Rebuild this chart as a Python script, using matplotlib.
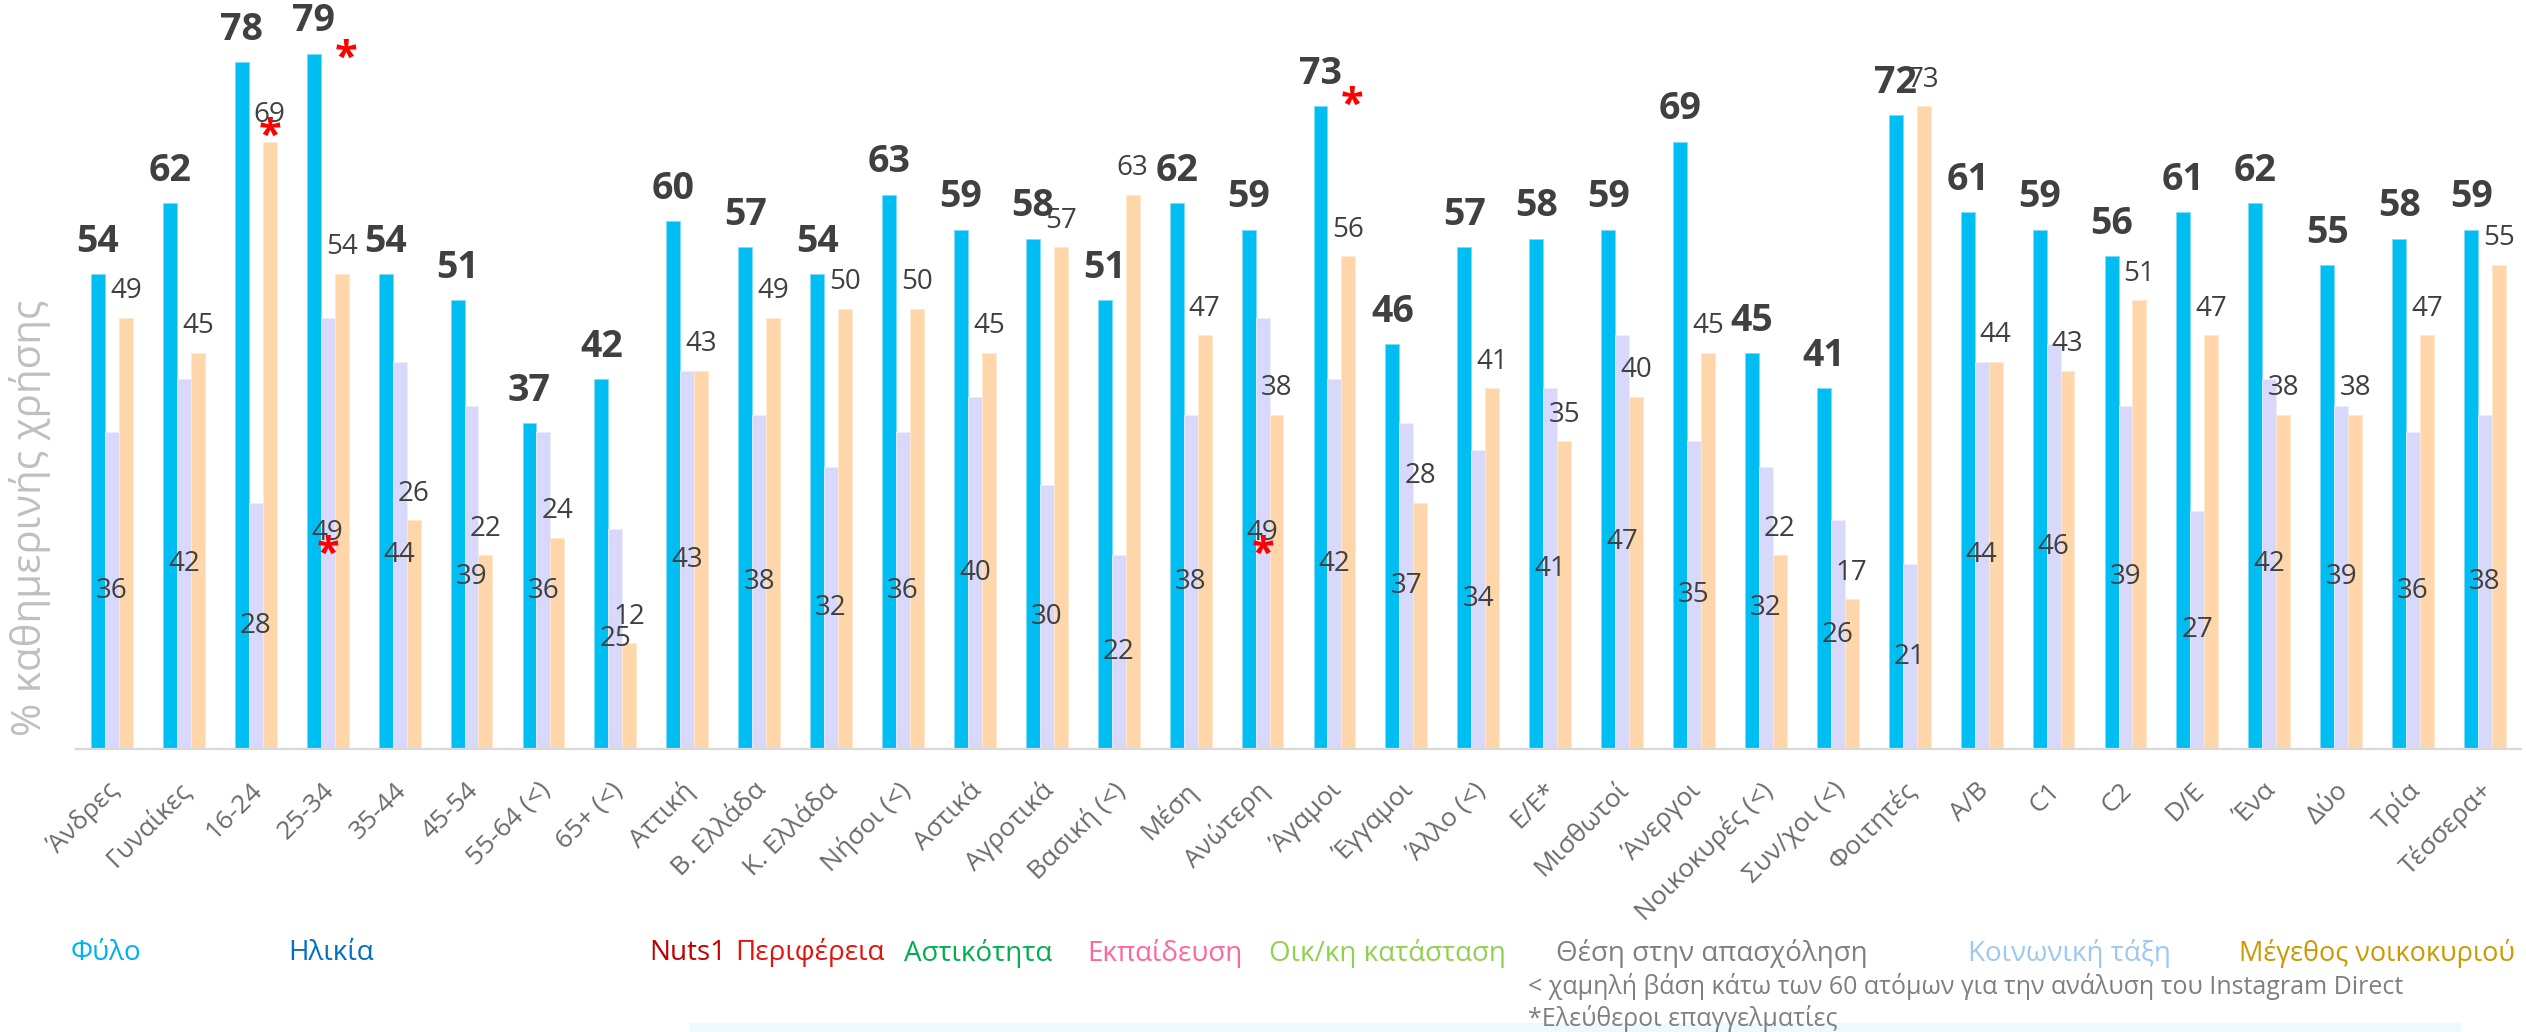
import matplotlib
matplotlib.use("Agg")
import matplotlib.pyplot as plt
import matplotlib.transforms as mtransforms
from matplotlib.patches import Rectangle

plt.rcParams['font.family'] = ['Open Sans', 'DejaVu Sans']

# ---- data -------------------------------------------------------------
categories = ["Άνδρες", "Γυναίκες", "16-24", "25-34", "35-44", "45-54",
              "55-64 (<)", "65+ (<)", "Αττική", "Β. Ελλάδα", "Κ. Ελλάδα",
              "Νήσοι (<)", "Αστικά", "Αγροτικά", "Βασική (<)", "Μέση",
              "Ανώτερη", "Άγαμοι", "Έγγαμοι", "Άλλο (<)", "Ε/Ε*", "Μισθωτοί",
              "Άνεργοι", "Νοικοκυρές (<)", "Συν/χοι (<)", "Φοιτητές", "A/B",
              "C1", "C2", "D/E", "Ένα", "Δύο", "Τρία", "Τέσσερα+"]

series_main = [54, 62, 78, 79, 54, 51, 37, 42, 60, 57, 54, 63, 59, 58, 51, 62,
               59, 73, 46, 57, 58, 59, 69, 45, 41, 72, 61, 59, 56, 61, 62, 55,
               58, 59]
series_lav = [36, 42, 28, 49, 44, 39, 36, 25, 43, 38, 32, 36, 40, 30, 22, 38,
              49, 42, 37, 34, 41, 47, 35, 32, 26, 21, 44, 46, 39, 27, 42, 39,
              36, 38]
series_orange = [49, 45, 69, 54, 26, 22, 24, 12, 43, 49, 50, 50, 45, 57, 63,
                 47, 38, 56, 28, 41, 35, 40, 45, 22, 17, 73, 44, 43, 51, 47,
                 38, 38, 47, 55]

# significance markers: category indices per series
star_main = [3, 17]
star_lav = [3, 16]
star_orange = [2]

group_labels = ["Φύλο", "Ηλικία", "Nuts1", "Περιφέρεια", "Αστικότητα",
                "Εκπαίδευση", "Οικ/κη κατάσταση", "Θέση στην απασχόληση",
                "Κοινωνική τάξη", "Μέγεθος νοικοκυριού"]
notes = ["< χαμηλή βάση κάτω των 60 ατόμων για την ανάλυση του Instagram Direct",
         "*Ελεύθεροι επαγγελματίες"]
y_title = "% καθημερινής χρήσης"

# ---- style ------------------------------------------------------------
C_MAIN = "#00BEF2"
C_LAV = "#D8D8FA"
C_ORANGE = "#FFD6AA"
C_TEXT = "#404040"
group_colors = ["#00B0F0", "#0070C0", "#C00000", "#E3120B", "#00B050",
                "#FF6699", "#92D050", "#7F7F7F", "#9DC8F0", "#CC9900"]
group_x = [71, 288, 649, None, 904, 1087, 1269, 1556, 1968, 2239]

W, H = 2526, 1032
fig = plt.figure(figsize=(W / 100, H / 100), dpi=100)
ax = fig.add_axes([76 / W, 1 - 749 / H, (2521 - 76) / W, 749 / H])

n = len(categories)
xs = list(range(n))
bw = 0.194

ax.bar([x - bw for x in xs], series_main, width=bw, color=C_MAIN,
       edgecolor="#7FDBF8", linewidth=0.6)
ax.bar(xs, series_lav, width=bw, color=C_LAV, edgecolor="#EDEDFD",
       linewidth=0.6)
ax.bar([x + bw for x in xs], series_orange, width=bw, color=C_ORANGE,
       edgecolor="#FFE8D0", linewidth=0.6)

ax.set_xlim(-0.5, n - 0.5)
ax.set_ylim(0, 85.1)
for s in ("top", "right", "left"):
    ax.spines[s].set_visible(False)
ax.spines["bottom"].set_color("#D9D9D9")
ax.spines["bottom"].set_linewidth(1.6)
ax.set_yticks([])
ax.set_xticks(xs)
ax.set_xticklabels(categories, rotation=45, ha="right", va="center",
                   rotation_mode="anchor", fontsize=19, color="#6B6B6B")
ax.tick_params(axis="x", length=0, pad=27)
shift = mtransforms.ScaledTranslation(3 / 100, 0, fig.dpi_scale_trans)
for lbl in ax.get_xticklabels():
    lbl.set_transform(lbl.get_transform() + shift)

# value labels
for x, v in zip(xs, series_main):
    ax.annotate(str(v), (x - bw, v), xytext=(0, 16), textcoords="offset points",
                ha="center", va="baseline", fontsize=27, fontweight="bold",
                color=C_TEXT)
for x, v in zip(xs, series_orange):
    ax.annotate(str(v), (x + bw, v), xytext=(0, 14), textcoords="offset points",
                ha="center", va="baseline", fontsize=20, color=C_TEXT)
for x, v in zip(xs, series_lav):
    ax.annotate(str(v), (x, v / 2), ha="center", va="center", fontsize=20,
                color=C_TEXT)

# red significance asterisks
star_kw = dict(textcoords="offset points", ha="center", va="center",
               fontsize=30, fontweight="bold", color="#FF0000")
main_offsets = {3: (23, -4), 17: (23, 0)}
for i in star_main:
    ax.annotate("*", (i - bw, series_main[i]), xytext=main_offsets[i],
                **star_kw)
for i in star_lav:
    ax.annotate("*", (i, series_lav[i] / 2), xytext=(0, -16), **star_kw)
for i in star_orange:
    ax.annotate("*", (i + bw, series_orange[i]), xytext=(0, 3), **star_kw)

# y axis title
fig.text(30 / W, 1 - 518 / H, y_title, rotation=90, ha="center", va="center",
         fontsize=29, color="#BFBFBF")

# grouping legend row
row_y = 1 - 953 / H
prev = None
for lab, col, gx in zip(group_labels, group_colors, group_x):
    if gx is None:
        prev = ax.annotate(lab, xy=(1, 0), xycoords=prev, xytext=(7, 0),
                           textcoords="offset points", ha="left", va="bottom",
                           fontsize=20, color=col, annotation_clip=False)
    else:
        prev = fig.text(gx / W, row_y, lab, ha="left", va="center",
                        fontsize=19.5 if gx > 2200 else 20, color=col)

fig.text(1528 / W, 1 - 987 / H, notes[0], ha="left", va="center", fontsize=18,
         color="#7F7F7F")
fig.text(1528 / W, 1 - 1018 / H, notes[1], ha="left", va="center",
         fontsize=18, color="#7F7F7F")

# faint band along the bottom edge
fig.patches.append(Rectangle((690 / W, 0), (2460 - 690) / W, 9 / H,
                             transform=fig.transFigure, color="#EEF9FD",
                             zorder=0))

fig.savefig("out.png", dpi=100)
